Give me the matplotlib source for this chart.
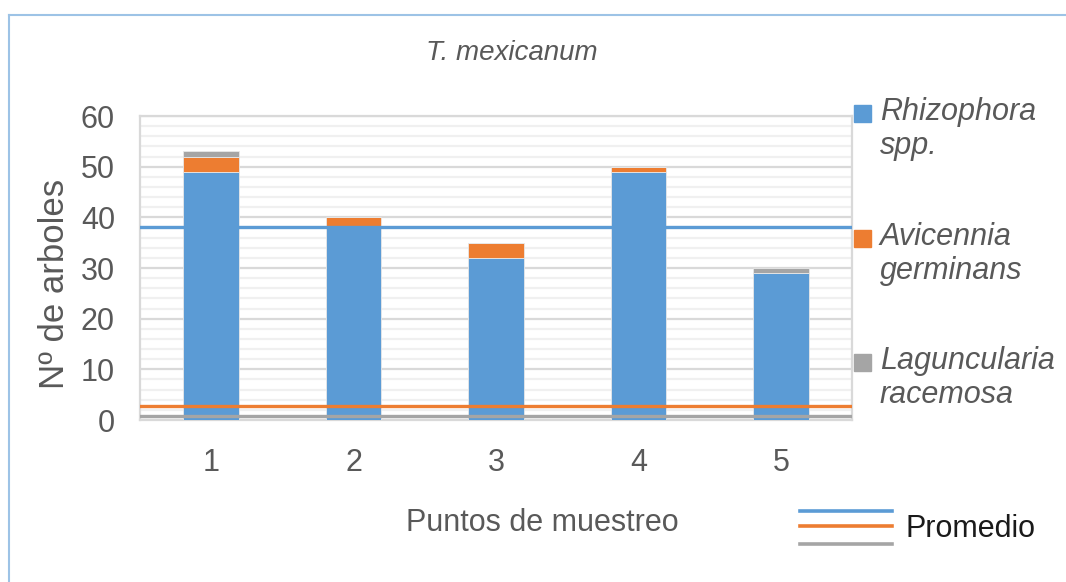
import numpy as np
import matplotlib
matplotlib.use("Agg")
import matplotlib.pyplot as plt
from matplotlib.lines import Line2D
from matplotlib.patches import Rectangle

plt.rcParams['font.family'] = ['Liberation Sans', 'DejaVu Sans']

# data
puntos = ['1', '2', '3', '4', '5']
rhizophora = [49, 38, 32, 49, 29]
avicennia = [3, 2, 3, 1, 0]
laguncularia = [1, 0, 0, 0, 1]
promedio = [38, 2.8, 0.7]   # horizontal average lines (blue, orange, gray)

especies = ['Rhizophora\nspp.', 'Avicennia\ngerminans', 'Laguncularia\nracemosa']
colores = ['#5B9BD5', '#ED7D31', '#A5A5A5']
txt = '#595959'

W, H = 1066, 582
fig = plt.figure(figsize=(W / 100, H / 100), dpi=100)
ax = fig.add_axes([140 / W, 1 - 420 / H, (852 - 140) / W, (420 - 116) / H])

x = np.arange(len(puntos))
bottom = np.zeros(len(puntos))
for vals, c in zip([rhizophora, avicennia, laguncularia], colores):
    ax.bar(x, vals, width=0.39, bottom=bottom, color=c, edgecolor='#e8e8e8',
           linewidth=0.6, zorder=3)
    bottom += np.array(vals)

for val, c in zip(promedio, colores):
    ax.axhline(val, color=c, lw=2.4, zorder=4)

ax.set_xlim(-0.5, len(puntos) - 0.5)
ax.set_ylim(0, 60)
ax.set_yticks(range(0, 61, 10))
ax.set_yticks(range(0, 61, 2), minor=True)
ax.grid(axis='y', which='major', color='#d9d9d9', lw=1.6, zorder=0)
ax.grid(axis='y', which='minor', color='#f0f0f0', lw=1.6, zorder=0)
ax.set_xticks(x)
ax.set_xticklabels(puntos)
ax.tick_params(axis='both', which='both', length=0, labelsize=22, colors=txt)
ax.tick_params(axis='x', pad=20)
ax.tick_params(axis='y', pad=18)
for s in ax.spines.values():
    s.set_color('#d9d9d9')
    s.set_linewidth(1.6)

fig.text(542 / W, 1 - 523 / H, 'Puntos de muestreo', fontsize=22, color=txt,
         ha='center', va='center')
fig.text(55 / W, 1 - 284 / H, 'Nº de arboles', fontsize=25, color=txt,
         ha='center', va='center', rotation=90)
fig.text(512 / W, 1 - 53 / H, 'T. mexicanum', fontsize=20, style='italic',
         color=txt, ha='center', va='center')

# species legend on the right
ys = [113, 238, 362]
for lab, c, yc in zip(especies, colores, ys):
    fig.add_artist(Rectangle((854 / W, 1 - (yc + 8.5) / H), 17 / W, 17 / H,
                             color=c, transform=fig.transFigure))
    fig.text(880 / W, 1 - (yc - 16) / H, lab, fontsize=22, style='italic',
             color=txt, ha='left', va='top', linespacing=1.18)

# Promedio legend
for yy, c in zip([511, 526, 544], colores):
    fig.add_artist(Line2D([800 / W, 892 / W], [1 - yy / H] * 2, color=c, lw=2.6,
                          transform=fig.transFigure))
fig.text(906 / W, 1 - 529 / H, 'Promedio', fontsize=22, color='#1a1a1a',
         ha='left', va='center')

# chart frame (left and top)
fig.add_artist(Line2D([9 / W, 9 / W], [0, 1 - 15 / H], color='#9DC3E6', lw=1.5,
                      transform=fig.transFigure))
fig.add_artist(Line2D([9 / W, 1], [1 - 15 / H] * 2, color='#9DC3E6', lw=1.5,
                      transform=fig.transFigure))

fig.savefig('out.png', dpi=100)
